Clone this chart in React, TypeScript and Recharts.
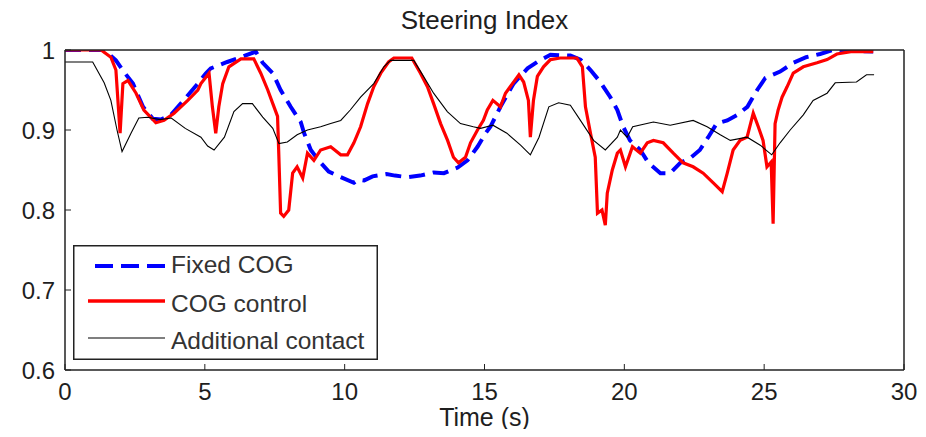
import React from 'react';
import { LineChart, Line, XAxis, YAxis, Legend } from 'recharts';

const xTicks = [0, 5, 10, 15, 20, 25, 30];
const yTicks = [0.6, 0.7, 0.8, 0.9, 1];

const fixedTime = [0, 1.4, 1.82, 2.1, 2.43, 2.79, 3.14, 3.43, 3.79, 4.14, 4.75, 5.04, 5.21, 5.8, 6.29, 6.82, 7.07, 7.43, 7.71, 8.07, 8.43, 8.55, 8.79, 9.07, 9.43, 9.86, 10.33, 10.5, 10.7, 11.0, 11.5, 11.8, 12.25, 12.7, 13.18, 13.55, 14.04, 14.39, 14.75, 15.04, 15.21, 15.57, 16.04, 16.54, 16.93, 17.36, 18.07, 18.43, 18.79, 19.14, 19.5, 19.75, 19.96, 20.2, 20.57, 20.86, 21.29, 21.64, 22.0, 22.36, 22.7, 23.0, 23.3, 23.68, 24.04, 24.4, 24.75, 25.04, 25.57, 26.04, 26.5, 27.0, 27.46, 28.9];
const fixedValue = [1, 1, 0.987, 0.973, 0.958, 0.929, 0.914, 0.913, 0.919, 0.933, 0.958, 0.971, 0.977, 0.985, 0.991, 0.998, 0.984, 0.971, 0.95, 0.929, 0.91, 0.896, 0.875, 0.862, 0.848, 0.841, 0.834, 0.838, 0.837, 0.842, 0.845, 0.843, 0.841, 0.843, 0.847, 0.846, 0.853, 0.862, 0.879, 0.896, 0.904, 0.929, 0.958, 0.977, 0.986, 0.994, 0.993, 0.988, 0.975, 0.96, 0.941, 0.925, 0.904, 0.887, 0.875, 0.859, 0.846, 0.846, 0.859, 0.865, 0.875, 0.891, 0.908, 0.912, 0.919, 0.929, 0.95, 0.965, 0.973, 0.984, 0.991, 0.995, 1.0, 0.998];

const cogTime = [0, 1.29, 1.64, 1.82, 1.97, 2.07, 2.25, 2.54, 2.82, 3.25, 3.54, 3.9, 4.39, 4.75, 4.86, 5.15, 5.27, 5.39, 5.5, 5.64, 5.86, 6.29, 6.75, 7.0, 7.25, 7.43, 7.6, 7.64, 7.71, 7.82, 8.0, 8.14, 8.3, 8.5, 8.67, 8.9, 9.14, 9.5, 9.86, 10.1, 10.33, 10.57, 10.82, 11.04, 11.29, 11.57, 11.76, 12.4, 12.71, 12.96, 13.18, 13.43, 13.68, 13.89, 14.07, 14.32, 14.5, 14.75, 14.96, 15.1, 15.3, 15.57, 15.75, 16.0, 16.23, 16.4, 16.57, 16.64, 16.75, 16.89, 17.11, 17.36, 17.71, 18.3, 18.5, 18.61, 18.79, 18.96, 19.04, 19.2, 19.32, 19.39, 19.57, 19.75, 19.86, 20.04, 20.29, 20.57, 20.82, 21.04, 21.39, 21.75, 22.1, 22.46, 22.82, 23.18, 23.5, 23.68, 23.89, 24.14, 24.39, 24.61, 24.79, 24.96, 25.1, 25.25, 25.32, 25.39, 25.5, 25.64, 25.82, 26.04, 26.4, 26.89, 27.25, 27.6, 28.1, 28.9];
const cogValue = [1, 1, 0.991, 0.975, 0.896, 0.958, 0.962, 0.946, 0.925, 0.909, 0.912, 0.921, 0.937, 0.95, 0.958, 0.971, 0.929, 0.896, 0.929, 0.958, 0.979, 0.989, 0.989, 0.971, 0.95, 0.933, 0.917, 0.875, 0.796, 0.792, 0.8, 0.846, 0.854, 0.84, 0.871, 0.862, 0.875, 0.879, 0.869, 0.869, 0.884, 0.904, 0.933, 0.954, 0.971, 0.985, 0.99, 0.99, 0.971, 0.954, 0.933, 0.908, 0.887, 0.866, 0.859, 0.866, 0.884, 0.9, 0.912, 0.925, 0.937, 0.929, 0.946, 0.958, 0.969, 0.96, 0.937, 0.891, 0.937, 0.967, 0.979, 0.988, 0.99, 0.99, 0.979, 0.929, 0.896, 0.866, 0.796, 0.8, 0.781, 0.821, 0.85, 0.871, 0.875, 0.854, 0.879, 0.871, 0.884, 0.887, 0.884, 0.871, 0.859, 0.854, 0.846, 0.834, 0.823, 0.846, 0.875, 0.887, 0.891, 0.921, 0.904, 0.887, 0.854, 0.86, 0.783, 0.908, 0.925, 0.941, 0.954, 0.971, 0.979, 0.984, 0.988, 0.995, 0.998, 0.998];

const contactTime = [0, 0.99, 1.4, 1.64, 1.86, 2.04, 2.36, 2.64, 2.95, 3.4, 3.8, 4.3, 4.86, 5.1, 5.33, 5.7, 6.04, 6.35, 6.7, 7.07, 7.43, 7.65, 7.95, 8.3, 8.67, 9.14, 9.5, 9.86, 10.2, 10.57, 11.04, 11.4, 11.64, 12.47, 12.82, 13.18, 13.67, 14.14, 14.6, 14.86, 15.3, 15.8, 16.29, 16.64, 16.95, 17.3, 17.65, 18.07, 18.43, 18.9, 19.32, 19.75, 19.86, 20.1, 20.3, 21.04, 21.64, 22.46, 22.96, 23.43, 23.79, 24.39, 24.86, 25.27, 25.57, 25.93, 26.4, 26.75, 27.25, 27.54, 28.3, 28.66, 28.93];
const contactValue = [0.985, 0.985, 0.959, 0.937, 0.9, 0.873, 0.896, 0.915, 0.916, 0.913, 0.915, 0.902, 0.891, 0.88, 0.875, 0.891, 0.923, 0.933, 0.933, 0.916, 0.902, 0.883, 0.885, 0.894, 0.9, 0.904, 0.908, 0.912, 0.925, 0.941, 0.958, 0.979, 0.987, 0.987, 0.967, 0.946, 0.923, 0.908, 0.904, 0.902, 0.906, 0.896, 0.881, 0.869, 0.891, 0.929, 0.934, 0.931, 0.912, 0.887, 0.875, 0.891, 0.9, 0.891, 0.904, 0.91, 0.906, 0.912, 0.904, 0.894, 0.887, 0.891, 0.881, 0.869, 0.884, 0.9, 0.919, 0.937, 0.946, 0.959, 0.96, 0.969, 0.969];

const seriesNames = ['Fixed COG', 'COG control', 'Additional contact'];

const toData = (ts: number[], vs: number[]) => ts.map((t, i) => ({ t, v: vs[i] }));
const fixedData = toData(fixedTime, fixedValue);
const cogData = toData(cogTime, cogValue);
const contactData = toData(contactTime, contactValue);

const FONT = '"Liberation Sans", Arial, Helvetica, sans-serif';
const TEXT = '#1e1e1e';

const renderLegend = () => (
  <svg width={305} height={115} style={{ display: 'block', background: '#fff' }}>
    <rect x={0.75} y={0.75} width={303.5} height={113.5} fill="#fff" stroke="#222" strokeWidth={1.5} />
    <line x1={22} x2={92} y1={21} y2={21} stroke="#0000ff" strokeWidth={4} strokeDasharray="18 8" />
    <line x1={15} x2={92} y1={56} y2={56} stroke="#ff0000" strokeWidth={3.5} />
    <line x1={15} x2={92} y1={93} y2={93} stroke="#000" strokeWidth={1.2} />
    <text x={98} y={28} fontSize={24.5} fontFamily={FONT} fill="#333">{seriesNames[0]}</text>
    <text x={98} y={67} fontSize={24.5} fontFamily={FONT} fill="#333">{seriesNames[1]}</text>
    <text x={98} y={104} fontSize={24.5} fontFamily={FONT} fill="#333">{seriesNames[2]}</text>
  </svg>
);

export default function App() {
  const axisLine = { stroke: '#222', strokeWidth: 1.5 };
  const tickLine = { stroke: '#222', strokeWidth: 1 };
  const tickStyle = { fill: TEXT, fontSize: 24, fontFamily: FONT };
  return (
    <div style={{ position: 'relative', width: 910, height: 421, fontFamily: FONT }}>
      <LineChart width={910} height={421} margin={{ top: 41, right: 4, bottom: 29, left: 7 }}>
        <XAxis
          type="number"
          dataKey="t"
          domain={[0, 30]}
          ticks={xTicks}
          interval={0}
          height={30}
          axisLine={axisLine}
          tickLine={tickLine}
          tick={tickStyle}
          tickSize={-6}
          tickMargin={19}
          allowDataOverflow
        />
        <XAxis
          xAxisId="top"
          orientation="top"
          type="number"
          domain={[0, 30]}
          ticks={xTicks}
          interval={0}
          height={1}
          axisLine={axisLine}
          tickLine={tickLine}
          tickSize={-6}
          tickFormatter={() => ''}
        />
        <YAxis
          type="number"
          domain={[0.6, 1]}
          ticks={yTicks}
          interval={0}
          width={50}
          axisLine={axisLine}
          tickLine={tickLine}
          tick={tickStyle}
          tickSize={-6}
          tickMargin={16}
          allowDataOverflow
        />
        <YAxis
          yAxisId="right"
          orientation="right"
          type="number"
          domain={[0.6, 1]}
          ticks={yTicks}
          interval={0}
          width={10}
          axisLine={axisLine}
          tickLine={tickLine}
          tickSize={-6}
          tickFormatter={() => ''}
        />
        <Legend
          layout="vertical"
          align="center"
          verticalAlign="middle"
          content={renderLegend}
          wrapperStyle={{ position: 'absolute', left: 65, top: 237, width: 305, height: 115 }}
        />
        <Line data={fixedData} dataKey="v" name={seriesNames[0]} type="linear" stroke="#0000ff" strokeWidth={4} strokeDasharray="16 8" dot={false} isAnimationActive={false} />
        <Line data={cogData} dataKey="v" name={seriesNames[1]} type="linear" stroke="#ff0000" strokeWidth={3.2} dot={false} isAnimationActive={false} />
        <Line data={contactData} dataKey="v" name={seriesNames[2]} type="linear" stroke="#000000" strokeWidth={1.1} dot={false} isAnimationActive={false} />
      </LineChart>
      <div style={{ position: 'absolute', left: 57, width: 839, top: -1, textAlign: 'center', fontSize: 26, lineHeight: '26px', color: TEXT }}>Steering Index</div>
      <div style={{ position: 'absolute', left: 57, width: 839, top: 399, textAlign: 'center', fontSize: 25, lineHeight: '20px', color: TEXT }}>Time (s)</div>
    </div>
  );
}
